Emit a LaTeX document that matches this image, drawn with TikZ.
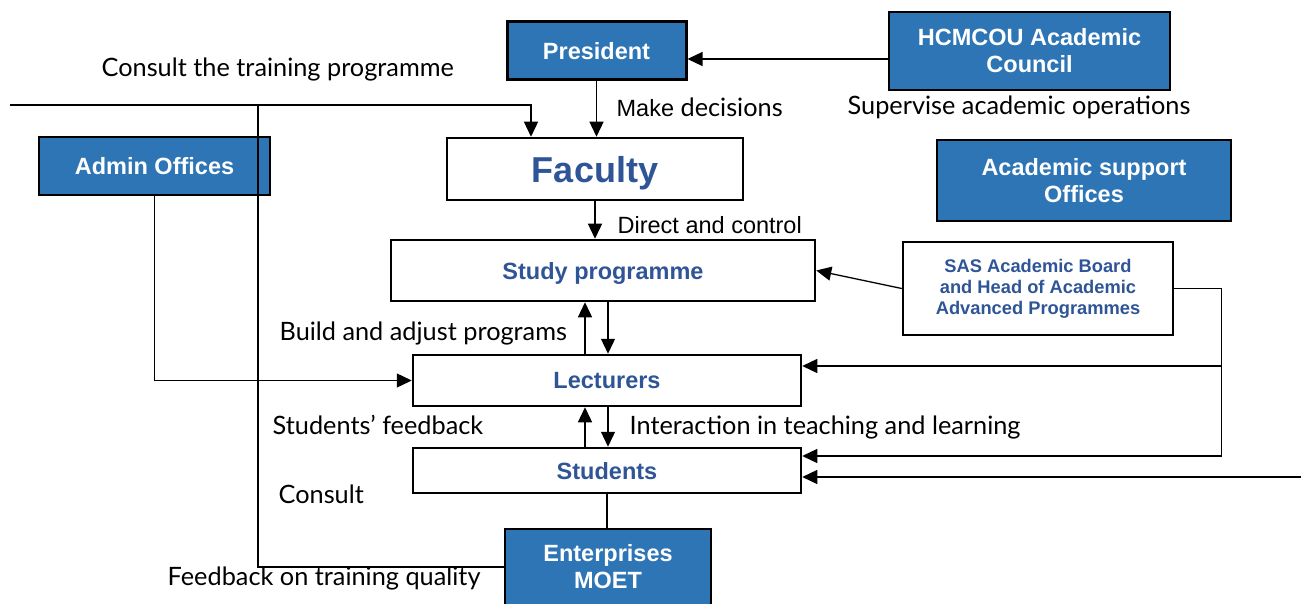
\documentclass[tikz,border=0pt]{standalone}
\usepackage{fontspec}
\setmainfont{Liberation Sans}
\newfontfamily\lblfont{Lato}
\usetikzlibrary{arrows.meta,positioning}
\definecolor{boxblue}{HTML}{2E75B6}
\definecolor{txtblue}{HTML}{2F5597}

\begin{document}
\begin{tikzpicture}[x=1pt,y=-1pt,line width=1.3pt,
  arr/.style={-{Triangle[length=15pt,width=14pt]}},
  bluebox/.style={draw,fill=boxblue,text=white,font=\fontsize{23.5}{27}\selectfont\bfseries,align=center,inner sep=0pt,line width=2.5pt},
  whitebox/.style={draw,fill=white,text=txtblue,font=\fontsize{23.5}{27}\selectfont\bfseries,align=center,inner sep=0pt,line width=2.5pt},
  lbl/.style={anchor=west,inner sep=0pt,font=\fontsize{25.3}{29}\selectfont\lblfont}]
  \useasboundingbox (0,0) rectangle (1301,604);
  \node[bluebox,line width=3pt,minimum width=179,minimum height=58](president) at (596.5,51) {President};
  \node[bluebox,minimum width=281,minimum height=78](council) at (1029.5,51) {HCMCOU Academic\\Council};
  \node[bluebox,minimum width=231,minimum height=58](admin) at (154.5,166) {Admin Offices};
  \node[bluebox,minimum width=294,minimum height=81](support) at (1084,180.5) {Academic support\\Offices};
  \node[whitebox,text depth=0pt,minimum width=296,minimum height=62,font=\fontsize{36}{40}\selectfont\bfseries](faculty) at (595,169) {Faculty};
  \node[whitebox,text depth=0pt,minimum width=424,minimum height=61](study) at (603,270.5) {Study programme};
  \node[whitebox,minimum width=270,minimum height=93,font=\fontsize{18.3}{21}\selectfont\bfseries](sas) at (1038,288.5) {SAS Academic Board\\and Head of Academic\\Advanced Programmes};
  \node[whitebox,text depth=0pt,minimum width=388,minimum height=51](lect) at (607,380.5) {Lecturers};
  \node[whitebox,text depth=0pt,minimum width=388,minimum height=45](stud) at (607,470.5) {Students};
  \node[bluebox,minimum width=206,minimum height=76](ent) at (608,567) {Enterprises\\MOET};
  \node[lbl](consultprog) at (101,69) {Consult the training programme};
  \node[lbl](decide) at (616,107) {{\rmfamily\fontsize{23.5}{27}\selectfont Make} decisions};
  \node[lbl](supervise) at (847,107) {Supervise academic operations};
  \node[lbl,font=\fontsize{23.5}{27}\selectfont](direct) at (617,225) {Direct and control};
  \node[lbl](build) at (279,333) {Build and adjust programs};
  \node[lbl](feedback) at (272,425) {Students’ feedback};
  \node[lbl](interact) at (629,427) {Interaction in teaching and learning};
  \node[lbl](consult) at (278,494) {Consult};
  \node[lbl](quality) at (167,578) {Feedback on training quality};
  \coordinate (lstart) at (10,105);
  \coordinate (junction) at (258,105);
  \coordinate (rstart) at (1301,477);
  \coordinate (sasbus) at ([xshift=47]sas.east);
  \coordinate (lectin) at ([yshift=14.5]lect.east);
  \draw[arr] ([yshift=-8]council.west) -- ([yshift=-8]president.east);
  \draw[arr] (president.south) -- (president.south |- faculty.north);
  \draw[arr] (faculty.south) -- (faculty.south |- study.north);
  \draw (lstart) -- (junction);
  \draw[arr] (ent.west) -| (junction) -| ([xshift=-64]faculty.north);
  \draw[arr] (admin.south) |- (lect.west);
  \draw[arr] ([xshift=-22]lect.north) -- ([xshift=-22]lect.north |- study.south);
  \draw[arr] ([xshift=1]lect.north |- study.south) -- ([xshift=1]lect.north);
  \draw[arr] ([xshift=-22]stud.north) -- ([xshift=-22]stud.north |- lect.south);
  \draw[arr] ([xshift=1]stud.north |- lect.south) -- ([xshift=1]stud.north);
  \draw (stud.south) -- (stud.south |- ent.north);
  \draw[arr] (sas.west) -- (study.east);
  \draw[arr] (sas.east) -- (sasbus) |- ([yshift=14.5]stud.east);
  \draw[arr] (sasbus |- lectin) -- (lectin);
  \draw[arr] (rstart) -- (rstart -| stud.east);
\end{tikzpicture}
\end{document}
